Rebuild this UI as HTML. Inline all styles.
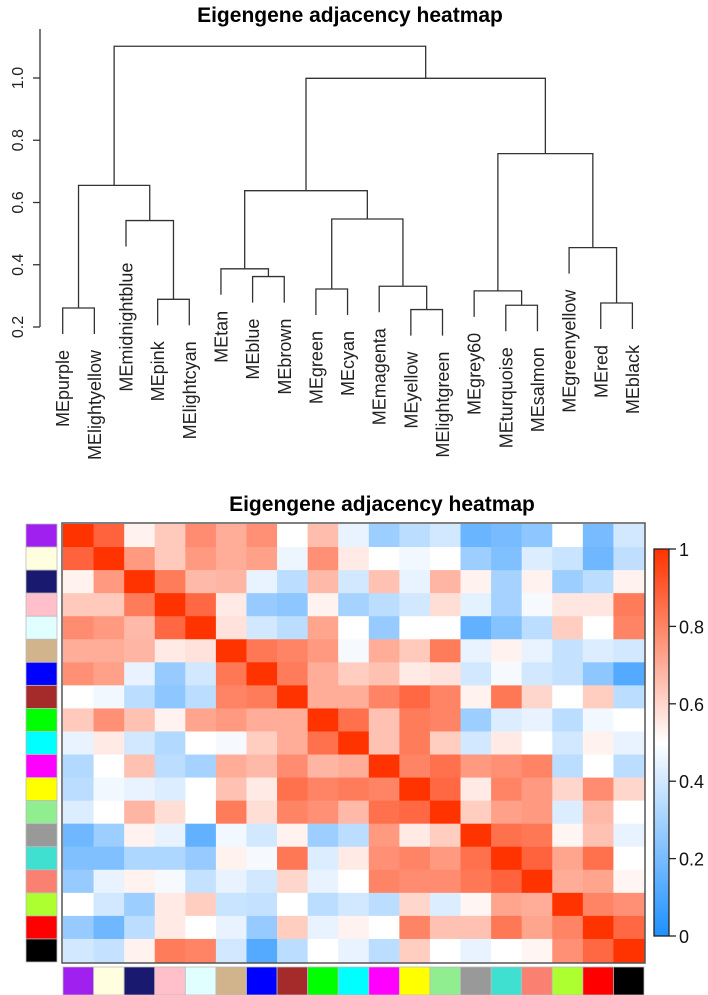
<!DOCTYPE html>
<html><head><meta charset="utf-8"><style>
html,body{margin:0;padding:0;background:#fff;}
svg{display:block;font-family:"Liberation Sans",Arial,sans-serif;}
</style></head><body>
<svg id="c" width="708" height="995" viewBox="0 0 708 995" xmlns="http://www.w3.org/2000/svg">
<text x="350" y="22" text-anchor="middle" font-size="21" font-weight="bold">Eigengene adjacency heatmap</text>
<text x="382" y="511" text-anchor="middle" font-size="21" font-weight="bold">Eigengene adjacency heatmap</text>
<g id="dendro"></g>
<g id="heat"></g>
</svg>
<script>
const modules = ["purple","lightyellow","midnightblue","pink","lightcyan","tan","blue","brown","green","cyan","magenta","yellow","lightgreen","grey60","turquoise","salmon","greenyellow","red","black"];
const moduleColors = ["#A020F0","#FFFFE0","#191970","#FFC0CB","#E0FFFF","#D2B48C","#0000FF","#A52A2A","#00FF00","#00FFFF","#FF00FF","#FFFF00","#90EE90","#999999","#40E0D0","#FA8072","#ADFF2F","#FF0000","#000000"];
// merges: [left, right, height]; negative = leaf index (-(i+1)), positive = merge number (1-based)
const merges = [
 [-1,-2,0.261],[-4,-5,0.289],[-3,2,0.542],[1,3,0.655],
 [-7,-8,0.362],[-6,5,0.387],[-9,-10,0.322],[-12,-13,0.256],[-11,8,0.331],[7,9,0.547],[6,10,0.638],
 [-15,-16,0.270],[-14,12,0.316],[-18,-19,0.277],[-17,14,0.455],[13,15,0.757],[11,16,0.999],[4,17,1.102]
];
const yTicks = [0.2,0.4,0.6,0.8,1.0];
const adj = [
[1,0.88,0.53,0.63,0.78,0.7,0.77,0.5,0.66,0.45,0.28,0.35,0.4,0.17,0.2,0.25,0.5,0.2,0.4],
[0.88,1,0.75,0.63,0.75,0.7,0.73,0.46,0.77,0.55,0.5,0.47,0.5,0.28,0.22,0.42,0.38,0.18,0.36],
[0.53,0.75,1,0.82,0.67,0.68,0.45,0.35,0.67,0.4,0.65,0.45,0.68,0.53,0.3,0.53,0.28,0.35,0.53],
[0.63,0.63,0.82,1,0.87,0.55,0.27,0.25,0.53,0.3,0.35,0.4,0.58,0.44,0.3,0.48,0.56,0.56,0.82],
[0.78,0.75,0.67,0.87,1,0.57,0.4,0.35,0.72,0.5,0.27,0.5,0.5,0.15,0.23,0.35,0.62,0.5,0.8],
[0.7,0.7,0.68,0.55,0.57,1,0.83,0.8,0.75,0.48,0.7,0.63,0.82,0.45,0.53,0.45,0.37,0.42,0.4],
[0.77,0.73,0.45,0.27,0.4,0.83,1,0.82,0.7,0.62,0.65,0.55,0.57,0.4,0.48,0.4,0.37,0.25,0.12],
[0.5,0.47,0.35,0.25,0.35,0.8,0.82,1,0.7,0.7,0.8,0.87,0.8,0.53,0.83,0.6,0.5,0.62,0.35],
[0.63,0.77,0.65,0.53,0.72,0.75,0.7,0.7,1,0.85,0.65,0.82,0.8,0.28,0.42,0.45,0.35,0.47,0.5],
[0.45,0.55,0.4,0.33,0.5,0.48,0.62,0.7,0.85,1,0.65,0.82,0.62,0.4,0.55,0.5,0.4,0.53,0.45],
[0.33,0.5,0.65,0.35,0.3,0.7,0.67,0.78,0.68,0.7,1,0.8,0.85,0.75,0.77,0.8,0.35,0.5,0.35],
[0.35,0.47,0.45,0.42,0.5,0.65,0.55,0.85,0.8,0.82,0.8,1,0.87,0.55,0.8,0.75,0.6,0.78,0.6],
[0.42,0.5,0.68,0.58,0.5,0.82,0.58,0.8,0.77,0.67,0.85,0.87,1,0.62,0.73,0.75,0.42,0.67,0.5],
[0.18,0.28,0.53,0.45,0.15,0.47,0.4,0.53,0.28,0.35,0.75,0.55,0.62,1,0.85,0.83,0.52,0.65,0.45],
[0.22,0.22,0.32,0.32,0.27,0.53,0.48,0.83,0.42,0.55,0.77,0.8,0.75,0.85,1,0.88,0.72,0.85,0.5],
[0.27,0.45,0.53,0.48,0.37,0.45,0.4,0.6,0.45,0.5,0.8,0.78,0.78,0.83,0.88,1,0.7,0.72,0.52],
[0.5,0.4,0.28,0.55,0.62,0.38,0.37,0.5,0.35,0.4,0.35,0.6,0.42,0.52,0.72,0.7,1,0.8,0.77],
[0.27,0.18,0.35,0.55,0.5,0.45,0.27,0.62,0.45,0.53,0.5,0.8,0.65,0.65,0.83,0.72,0.8,1,0.87],
[0.4,0.37,0.53,0.82,0.8,0.4,0.12,0.35,0.5,0.45,0.35,0.62,0.5,0.45,0.5,0.52,0.77,0.87,1]
];
const scaleTicks = [0,0.2,0.4,0.6,0.8,1];
const scaleLabels = ["0","0.2","0.4","0.6","0.8","1"];

const NS="http://www.w3.org/2000/svg";
function mk(tag,attrs,parent){const e=document.createElementNS(NS,tag);for(const k in attrs)e.setAttribute(k,attrs[k]);parent.appendChild(e);return e;}

const dg=document.getElementById('dendro');
const leafX=i=>62.7+31.65*i;
const hY=h=>327-(h-0.2)*311.25;
const HANG=26;
const n=modules.length;
const ax=mk('line',{x1:40,y1:hY(0.2),x2:40,y2:29,stroke:'#333','stroke-width':1.3},dg);


yTicks.forEach(t=>{
  const tk=mk('line',{x1:33,y1:hY(t),x2:40,y2:hY(t),stroke:'#333','stroke-width':1.3},dg);
  
  
  const tl=mk('text',{x:0,y:0,'font-size':16,'text-anchor':'middle',fill:'#222',transform:`translate(23,${hY(t)}) rotate(-90)`},dg);
  tl.textContent=t.toFixed(1);
  
  
});
const nodes=[];
merges.forEach((m,k)=>{
  const h=hY(m[2]);
  const pts=[m[0],m[1]].map(id=>{
    if(id<0){const i=-id-1;return {x:leafX(i),y:h+HANG,leaf:i};}
    const p=nodes[id-1];return {x:p.x,y:p.y};
  });
  const path=mk('path',{d:`M${pts[0].x},${pts[0].y}V${h}H${pts[1].x}V${pts[1].y}`,fill:'none',stroke:'#333','stroke-width':1.3},dg);
  
  
  pts.forEach(p=>{
    if(p.leaf!==undefined){
      const t=mk('text',{x:0,y:0,'font-size':18,'text-anchor':'end',fill:'#222',transform:`translate(${p.x+6.5},${p.y+16}) rotate(-90)`},dg);
      t.textContent='ME'+modules[p.leaf];
      
      
    }
  });
  nodes.push({x:(pts[0].x+pts[1].x)/2,y:h});
});

const hg=document.getElementById('heat');
const X0=63,X1=644,Y0=524,Y1=962;
const cw=(X1-X0)/n, ch=(Y1-Y0)/n;
function col(v){
  v=Math.max(0,Math.min(1,v));
  let r,g,b;
  if(v<0.5){const t=v/0.5;r=30+(255-30)*t;g=144+(255-144)*t;b=255;}
  else{const t=(v-0.5)/0.5;r=255;g=255-(255-51)*t;b=255-255*t;}
  return `rgb(${r|0},${g|0},${b|0})`;
}
adj.forEach((row,i)=>row.forEach((v,j)=>{
  const r=mk('rect',{x:X0+j*cw,y:Y0+i*ch,width:cw+0.5,height:ch+0.5,fill:col(v)},hg);
  
  
}));
const fr=mk('rect',{x:X0-1,y:Y0-1,width:X1-X0+2,height:Y1-Y0+2,fill:'none',stroke:'#555','stroke-width':1.5},hg);


moduleColors.forEach((c,i)=>{
  const a=mk('rect',{x:26,y:Y0+i*ch,width:31,height:ch,fill:c,stroke:'#bbb','stroke-width':0.8},hg);
  
  
  const b=mk('rect',{x:X0+i*cw,y:967,width:cw,height:28,fill:c,stroke:'#bbb','stroke-width':0.8},hg);
  
  
});
const CY0=549,CY1=936,CX=654,CW=15;
const defs=mk('defs',{},hg);
const lg=mk('linearGradient',{id:'gr',x1:0,y1:1,x2:0,y2:0},defs);
for(let k=0;k<=20;k++){mk('stop',{offset:k/20,'stop-color':col(k/20)},lg);}
const cb=mk('rect',{x:CX,y:CY0,width:CW,height:CY1-CY0,fill:'url(#gr)',stroke:'#222','stroke-width':1.3},hg);


scaleTicks.forEach((t,k)=>{
  const y=CY1-t*(CY1-CY0);
  const l=mk('line',{x1:CX+CW,y1:y,x2:CX+CW+7,y2:y,stroke:'#222','stroke-width':1.3},hg);
  
  
  const tx=mk('text',{x:CX+CW+10,y:y+7,'font-size':18,fill:'#111'},hg);
  tx.textContent=scaleLabels[k];
  
  
});
</script>
</body></html>
